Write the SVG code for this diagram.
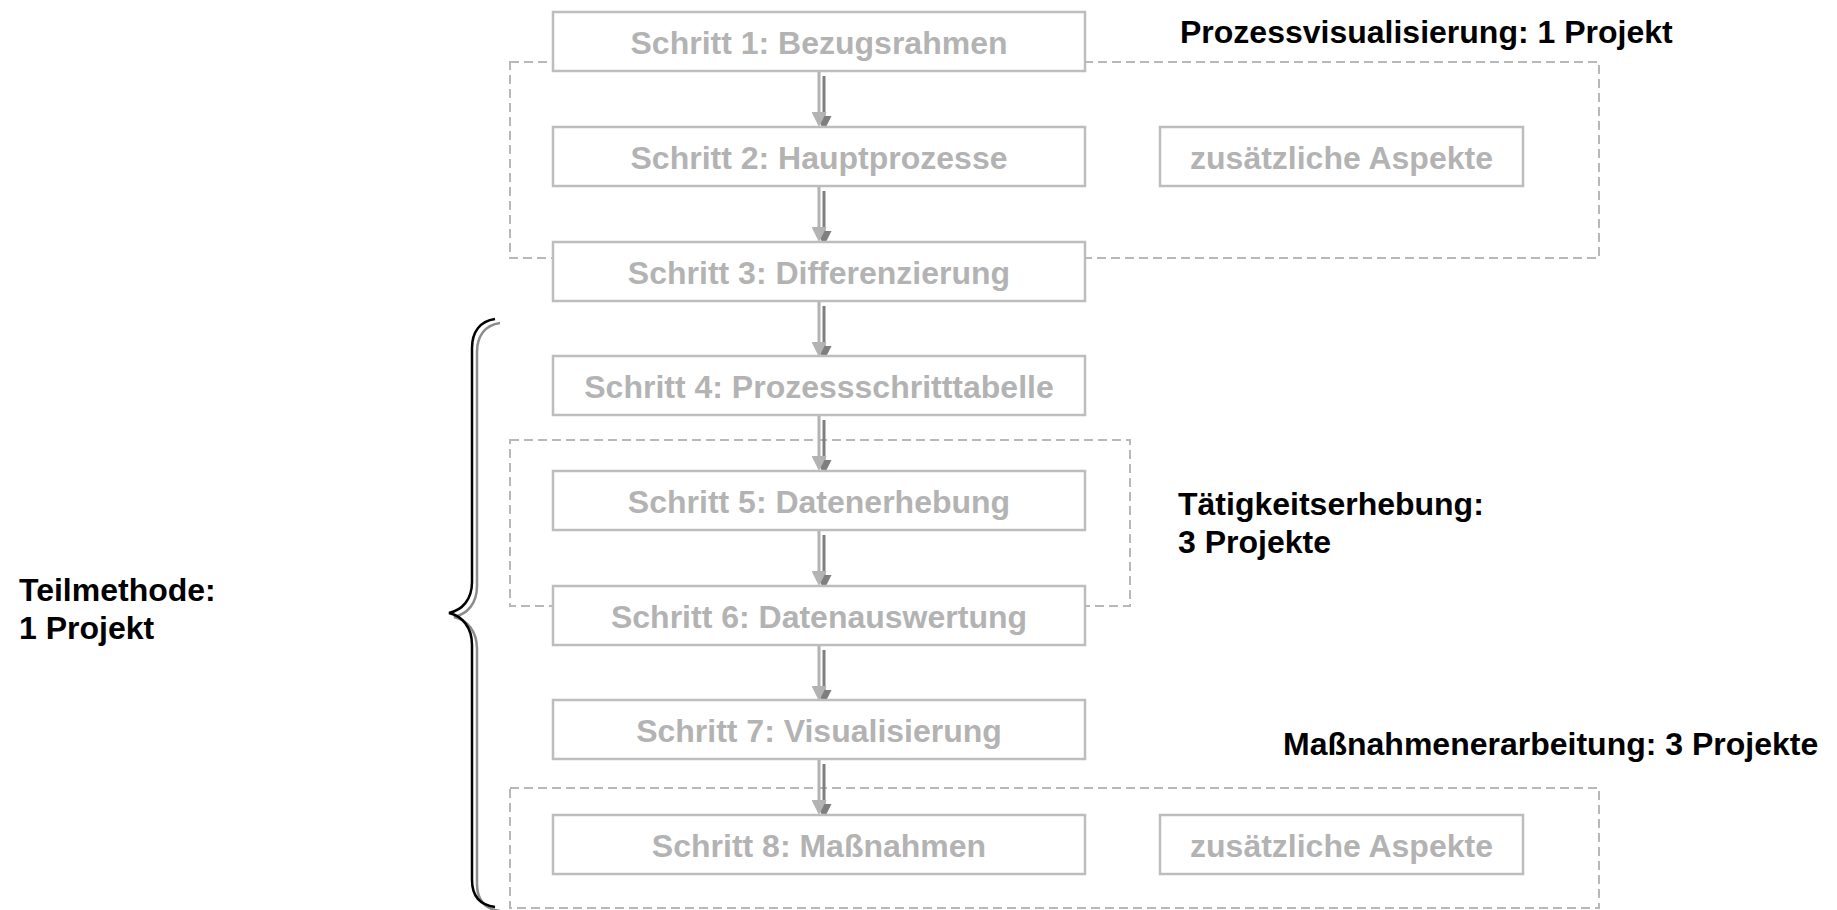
<svg xmlns="http://www.w3.org/2000/svg" width="1837" height="910" viewBox="0 0 1837 910">
<style>
.bg{fill:#ffffff}
.grp{fill:none;stroke:#b8b8b8;stroke-width:2;stroke-dasharray:9,5}
.box{fill:#ffffff;stroke:#bdbdbd;stroke-width:2.5}
.bt{font-family:"Liberation Sans",Arial,sans-serif;font-weight:bold;font-size:32px;fill:#b3b3b3;text-anchor:middle}
.lbl{font-family:"Liberation Sans",Arial,sans-serif;font-weight:bold;font-size:32px;fill:#000000}
.al{fill:none;stroke:#b3b3b3;stroke-width:3}
.ad{fill:none;stroke:#7f7f7f;stroke-width:3}
.brk{fill:none;stroke:#000000;stroke-width:2.5}
.brg{fill:none;stroke:#8c8c8c;stroke-width:2.5}
</style>
<defs>
<marker id="hl" viewBox="0 0 15 15" refX="1" refY="7.5" markerWidth="15" markerHeight="15" markerUnits="userSpaceOnUse" orient="auto"><path d="M0,0 L15,7.5 L0,15 z" fill="#b3b3b3"/></marker>
<marker id="hd" viewBox="0 0 15 15" refX="1" refY="7.5" markerWidth="15" markerHeight="15" markerUnits="userSpaceOnUse" orient="auto"><path d="M0,0 L15,7.5 L0,15 z" fill="#7f7f7f"/></marker>
</defs>
<rect class="bg" x="0" y="0" width="1837" height="910"/>
<g id="groups">
<rect id="grp-prozessvisualisierung" class="grp" x="510" y="62" width="1089" height="196"/>
<rect id="grp-taetigkeitserhebung" class="grp" x="510" y="440" width="620" height="166"/>
<rect id="grp-massnahmen" class="grp" x="510" y="788" width="1089" height="120"/>
</g>
<g id="connectors">
<path class="ad" d="M824,76 V117" marker-end="url(#hd)"/>
<path class="al" d="M819,71 V113" marker-end="url(#hl)"/>
<path class="ad" d="M824,191 V232" marker-end="url(#hd)"/>
<path class="al" d="M819,186 V228" marker-end="url(#hl)"/>
<path class="ad" d="M824,306 V347" marker-end="url(#hd)"/>
<path class="al" d="M819,301 V343" marker-end="url(#hl)"/>
<path class="ad" d="M824,420 V461" marker-end="url(#hd)"/>
<path class="al" d="M819,415 V457" marker-end="url(#hl)"/>
<path class="ad" d="M824,535 V576" marker-end="url(#hd)"/>
<path class="al" d="M819,530 V572" marker-end="url(#hl)"/>
<path class="ad" d="M824,650 V691" marker-end="url(#hd)"/>
<path class="al" d="M819,645 V687" marker-end="url(#hl)"/>
<path class="ad" d="M824,764 V805" marker-end="url(#hd)"/>
<path class="al" d="M819,759 V801" marker-end="url(#hl)"/>
</g>
<g id="step1"><rect class="box" x="553" y="12" width="532" height="59"/><text class="bt" x="819" y="53.5">Schritt 1: Bezugsrahmen</text></g>
<g id="step2"><rect class="box" x="553" y="127" width="532" height="59"/><text class="bt" x="819" y="168.5">Schritt 2: Hauptprozesse</text></g>
<g id="step3"><rect class="box" x="553" y="242" width="532" height="59"/><text class="bt" x="819" y="283.5">Schritt 3: Differenzierung</text></g>
<g id="step4"><rect class="box" x="553" y="356" width="532" height="59"/><text class="bt" x="819" y="397.5">Schritt 4: Prozessschritttabelle</text></g>
<g id="step5"><rect class="box" x="553" y="471" width="532" height="59"/><text class="bt" x="819" y="512.5">Schritt 5: Datenerhebung</text></g>
<g id="step6"><rect class="box" x="553" y="586" width="532" height="59"/><text class="bt" x="819" y="627.5">Schritt 6: Datenauswertung</text></g>
<g id="step7"><rect class="box" x="553" y="700" width="532" height="59"/><text class="bt" x="819" y="741.5">Schritt 7: Visualisierung</text></g>
<g id="step8"><rect class="box" x="553" y="815" width="532" height="59"/><text class="bt" x="819" y="856.5">Schritt 8: Maßnahmen</text></g>
<g id="aspekte1"><rect class="box" x="1160" y="127" width="363" height="59"/><text class="bt" x="1341.5" y="168.5">zusätzliche Aspekte</text></g>
<g id="aspekte2"><rect class="box" x="1160" y="815" width="363" height="59"/><text class="bt" x="1341.5" y="856.5">zusätzliche Aspekte</text></g>
<g id="brace">
<path class="brg" transform="translate(5,4)" d="M495,319 C480,321 472,332 472,348 L472,582 C472,600 462,610 449,613 C462,616 472,627 472,645 L472,880 C472,896 480,905 495,907"/>
<path class="brk" d="M495,319 C480,321 472,332 472,348 L472,582 C472,600 462,610 449,613 C462,616 472,627 472,645 L472,880 C472,896 480,905 495,907"/>
</g>
<g id="label-prozessvisualisierung"><text class="lbl" x="1180" y="43">Prozessvisualisierung: 1 Projekt</text></g>
<g id="label-taetigkeitserhebung"><text class="lbl" x="1178" y="515">Tätigkeitserhebung:</text><text class="lbl" x="1178" y="553">3 Projekte</text></g>
<g id="label-massnahmen"><text class="lbl" x="1283" y="755">Maßnahmenerarbeitung: 3 Projekte</text></g>
<g id="label-teilmethode"><text class="lbl" x="19" y="601">Teilmethode:</text><text class="lbl" x="19" y="639">1 Projekt</text></g>
</svg>
